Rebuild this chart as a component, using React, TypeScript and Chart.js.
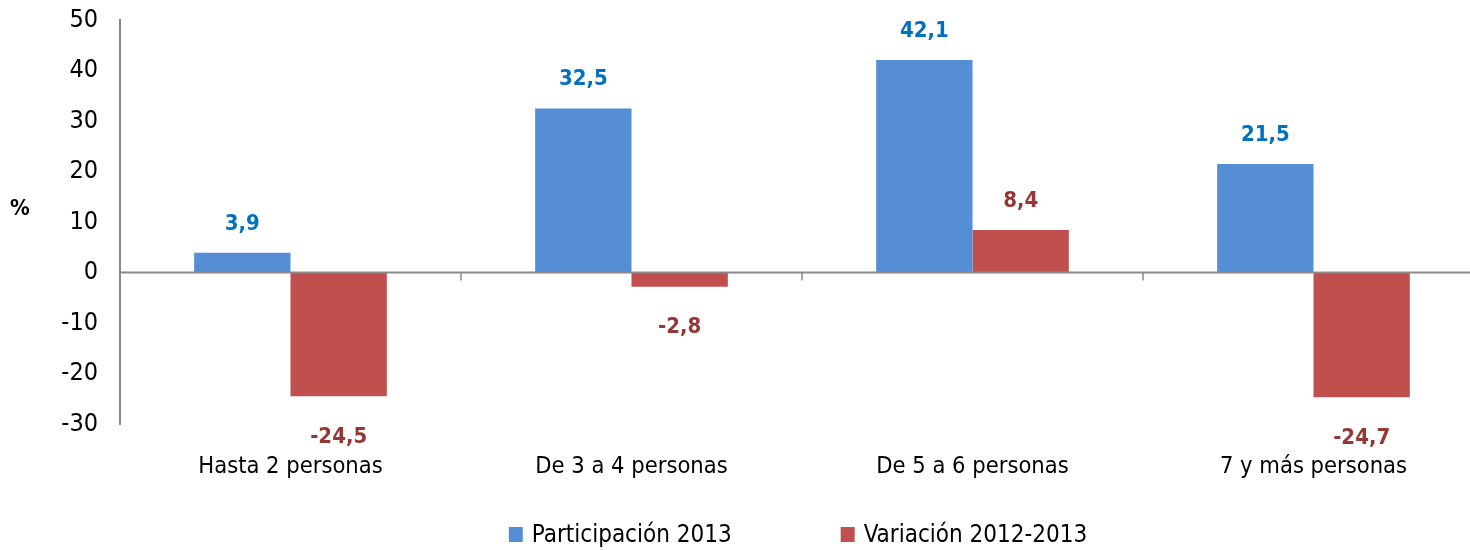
import { useEffect, useRef } from 'react';
import { Chart, registerables } from 'chart.js';

Chart.register(...registerables);

const categories = ['Hasta 2 personas', 'De 3 a 4 personas', 'De 5 a 6 personas', '7 y más personas'];
const participacion2013 = [3.9, 32.5, 42.1, 21.5];
const variacion20122013 = [-24.5, -2.8, 8.4, -24.7];
const seriesNames = ['Participación 2013', 'Variación 2012-2013'];
const barColors = ['#558ED5', '#C0504D'];
const labelColors = ['#0070C0', '#953735'];
const yMin = -30;
const yMax = 50;
const yStep = 10;
const yTitle = '%';

const FONT = "'Liberation Sans Narrow', 'DejaVu Sans Condensed', 'Liberation Sans', sans-serif";
const AXIS_GRAY = '#898989';
const CANVAS_W = 1484;
const CANVAS_H = 550;

const decorPlugin = {
  id: 'decor',
  afterDatasetsDraw(chart: any) {
    const { ctx, chartArea } = chart;
    const yScale = chart.scales.y;
    const xScale = chart.scales.x;
    const y0 = yScale.getPixelForValue(0);
    ctx.save();
    // zero line
    ctx.strokeStyle = AXIS_GRAY;
    ctx.lineWidth = 2;
    ctx.beginPath();
    ctx.moveTo(chartArea.left, y0);
    ctx.lineTo(chartArea.right, y0);
    ctx.stroke();
    // category boundary ticks
    ctx.lineWidth = 1.5;
    const n = categories.length;
    for (let i = 1; i < n; i++) {
      const x = (xScale.getPixelForValue(i - 1) + xScale.getPixelForValue(i)) / 2;
      ctx.beginPath();
      ctx.moveTo(x, y0);
      ctx.lineTo(x, y0 + 8);
      ctx.stroke();
    }
    // data labels
    ctx.font = `bold 22px ${FONT}`;
    ctx.textAlign = 'center';
    ctx.textBaseline = 'middle';
    chart.data.datasets.forEach((ds: any, di: number) => {
      const meta = chart.getDatasetMeta(di);
      meta.data.forEach((bar: any, i: number) => {
        const v = ds.data[i] as number;
        const text = v.toFixed(1).replace('.', ',');
        const y = v >= 0 ? bar.y - 29 : bar.y + 41;
        ctx.fillStyle = labelColors[di];
        ctx.fillText(text, bar.x, y);
      });
    });
    // y title
    ctx.fillStyle = '#000';
    ctx.font = `bold 22px ${FONT}`;
    ctx.fillText(yTitle, chartArea.left - 100, yScale.getPixelForValue(12.5));
    ctx.restore();
  },
  afterDraw(chart: any) {
    // legend
    const { ctx, chartArea } = chart;
    ctx.save();
    ctx.font = `24px ${FONT}`;
    ctx.textBaseline = 'middle';
    ctx.textAlign = 'left';
    const boxW = 14;
    const boxH = 15;
    const gapBoxText = 9;
    const gapItems = 109;
    const widths = seriesNames.map((s) => boxW + gapBoxText + ctx.measureText(s).width);
    const total = widths.reduce((a, b) => a + b, 0) + gapItems * (widths.length - 1);
    const cy = chart.height - 15.5;
    let x = (chartArea.left + chartArea.right) / 2 - total / 2 - 4;
    seriesNames.forEach((s, i) => {
      ctx.fillStyle = barColors[i];
      ctx.fillRect(x, cy - boxH / 2, boxW, boxH);
      ctx.fillStyle = '#000';
      ctx.fillText(s, x + boxW + gapBoxText, cy + 1);
      x += widths[i] + gapItems;
    });
    ctx.restore();
  },
};

export default function App() {
  const ref = useRef<HTMLCanvasElement | null>(null);
  useEffect(() => {
    if (!ref.current) return;
    const chart = new Chart(ref.current, {
      type: 'bar',
      data: {
        labels: categories,
        datasets: [
          { label: seriesNames[0], data: participacion2013, backgroundColor: barColors[0] },
          { label: seriesNames[1], data: variacion20122013, backgroundColor: barColors[1] },
        ],
      },
      options: {
        responsive: false,
        animation: false,
        events: [],
        layout: { padding: { top: 20, left: 0, right: 0, bottom: 0 } },
        datasets: { bar: { categoryPercentage: 0.565, barPercentage: 1 } },
        scales: {
          x: {
            grid: { display: false, drawTicks: false },
            border: { display: false },
            ticks: { color: '#000', font: { family: FONT, size: 23.5 }, padding: 29 },
            afterFit(scale: any) { scale.height = 126; },
          },
          y: {
            min: yMin,
            max: yMax,
            grid: { display: false, drawTicks: true, tickLength: 22 },
            border: { display: true, color: AXIS_GRAY, width: 2 },
            ticks: { stepSize: yStep, color: '#000', font: { family: FONT, size: 25 }, padding: 0 },
            afterFit(scale: any) { scale.width = 120; },
          },
        },
        plugins: {
          legend: { display: false },
          tooltip: { enabled: false },
        },
      },
      plugins: [decorPlugin],
    });
    return () => chart.destroy();
  }, []);
  return (
    <div style={{ position: 'absolute', left: 0, top: 0, width: 1470, height: CANVAS_H, overflow: 'hidden', background: '#fff' }}>
      <canvas ref={ref} width={CANVAS_W} height={CANVAS_H} style={{ display: 'block' }} />
    </div>
  );
}
